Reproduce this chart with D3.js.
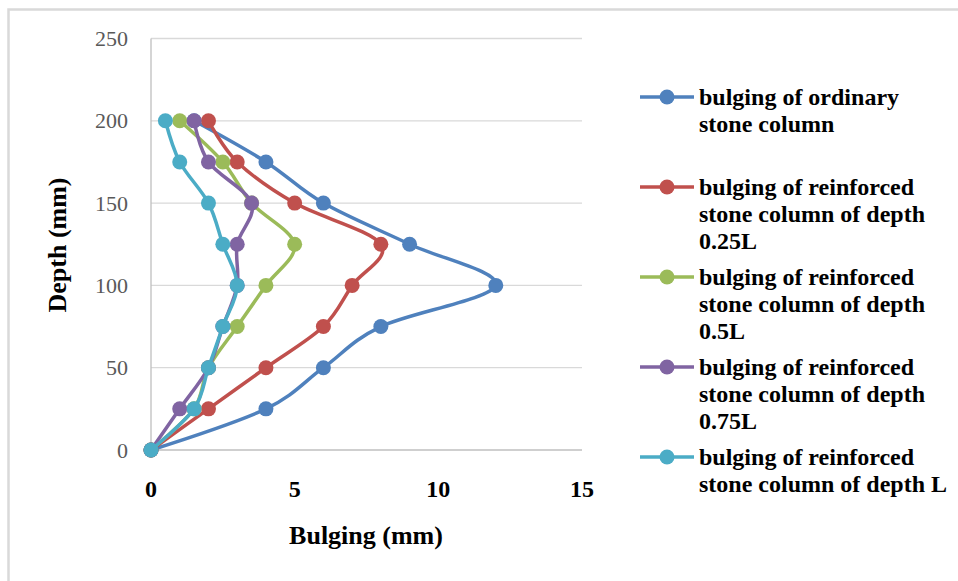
<!DOCTYPE html>
<html>
<head>
<meta charset="utf-8">
<script src="https://cdn.jsdelivr.net/npm/d3@7"></script>
<style>
  html, body { margin: 0; padding: 0; background: #fff; }
  svg { display: block; }
</style>
</head>
<body>
<svg id="chart" width="958" height="581"></svg>
<script>
// ---- data ----
const depths = [0, 25, 50, 75, 100, 125, 150, 175, 200];
const seriesNames = [
  ["bulging of ordinary", "stone column"],
  ["bulging of reinforced", "stone column of depth", "0.25L"],
  ["bulging of reinforced", "stone column of depth", "0.5L"],
  ["bulging of reinforced", "stone column of depth", "0.75L"],
  ["bulging of reinforced", "stone column of depth L"]
];
const ordinary = [0, 4, 6, 8, 12, 9, 6, 4, 1.5];
const reinf025 = [0, 2, 4, 6, 7, 8, 5, 3, 2];
const reinf050 = [0, 1.5, 2, 3, 4, 5, 3.5, 2.5, 1];
const reinf075 = [0, 1, 2, 2.5, 3, 3, 3.5, 2, 1.5];
const reinfL   = [0, 1.5, 2, 2.5, 3, 2.5, 2, 1, 0.5];
const seriesValues = [ordinary, reinf025, reinf050, reinf075, reinfL];
const colors = ["#4F81BD", "#C0504D", "#9BBB59", "#8064A2", "#4BACC6"];
const xTicks = [0, 5, 10, 15];
const yTicks = [0, 50, 100, 150, 200, 250];

// ---- layout ----
const svg = d3.select("#chart");
const x = d3.scaleLinear().domain([0, 15]).range([151, 582]);
const y = d3.scaleLinear().domain([0, 250]).range([450, 38.5]);

// outer frame
svg.append("path")
  .attr("d", "M8.5,600 L8.5,9.5 L970,9.5")
  .attr("fill", "none")
  .attr("stroke", "#d9d9d9")
  .attr("stroke-width", 2.5);

// gridlines
svg.append("g").selectAll("line").data(yTicks.filter(d => d > 0)).join("line")
  .attr("x1", x(0)).attr("x2", x(15))
  .attr("y1", d => y(d)).attr("y2", d => y(d))
  .attr("stroke", "#d9d9d9").attr("stroke-width", 1.3);

// axes lines
svg.append("line").attr("x1", x(0)).attr("x2", x(0)).attr("y1", y(0)).attr("y2", y(250))
  .attr("stroke", "#bfbfbf").attr("stroke-width", 1.3);
svg.append("line").attr("x1", x(0)).attr("x2", x(15)).attr("y1", y(0)).attr("y2", y(0))
  .attr("stroke", "#bfbfbf").attr("stroke-width", 1.3);

// y tick labels
svg.append("g").selectAll("text").data(yTicks).join("text")
  .attr("x", 128).attr("y", d => y(d) + 7.5)
  .attr("text-anchor", "end")
  .attr("font-family", "'Liberation Serif', 'Times New Roman', serif")
  .attr("font-size", 22)
  .attr("fill", "#595959")
  .text(d => d);

// x tick labels
svg.append("g").selectAll("text").data(xTicks).join("text")
  .attr("x", d => x(d)).attr("y", 497)
  .attr("text-anchor", "middle")
  .attr("font-family", "'Liberation Serif', 'Times New Roman', serif")
  .attr("font-weight", "bold")
  .attr("font-size", 24)
  .attr("fill", "#000")
  .text(d => d);

// axis titles
svg.append("text")
  .attr("x", 366).attr("y", 544)
  .attr("text-anchor", "middle")
  .attr("font-family", "'Liberation Serif', 'Times New Roman', serif")
  .attr("font-weight", "bold").attr("font-size", 26)
  .text("Bulging (mm)");
svg.append("text")
  .attr("transform", "translate(66,245) rotate(-90)")
  .attr("text-anchor", "middle")
  .attr("font-family", "'Liberation Serif', 'Times New Roman', serif")
  .attr("font-weight", "bold").attr("font-size", 26)
  .text("Depth (mm)");

// series
const line = d3.line().x(d => x(d[0])).y(d => y(d[1])).curve(d3.curveCatmullRom.alpha(0));
seriesValues.forEach((vals, i) => {
  const pts = vals.map((v, j) => [v, depths[j]]);
  const g = svg.append("g");
  g.append("path").datum(pts)
    .attr("d", line)
    .attr("fill", "none")
    .attr("stroke", colors[i])
    .attr("stroke-width", 3.5)
    .attr("stroke-linejoin", "round");
  g.selectAll("circle").data(pts).join("circle")
    .attr("cx", d => x(d[0])).attr("cy", d => y(d[1]))
    .attr("r", 7.5)
    .attr("fill", colors[i]);
});

// legend
const legendY = [97, 187, 277, 367, 457];
seriesNames.forEach((lines, i) => {
  const g = svg.append("g");
  g.append("line").attr("x1", 640).attr("x2", 694)
    .attr("y1", legendY[i]).attr("y2", legendY[i])
    .attr("stroke", colors[i]).attr("stroke-width", 3.5);
  g.append("circle").attr("cx", 667).attr("cy", legendY[i]).attr("r", 7.5).attr("fill", colors[i]);
  const t = g.append("text")
    .attr("x", 699).attr("y", legendY[i] + 8)
    .attr("font-family", "'Liberation Serif', 'Times New Roman', serif")
    .attr("font-weight", "bold").attr("font-size", 24)
    .attr("fill", "#000");
  lines.forEach((s, k) => {
    t.append("tspan").attr("x", 699).attr("y", legendY[i] + 8 + k * 27).text(s);
  });
});
</script>
</body>
</html>
